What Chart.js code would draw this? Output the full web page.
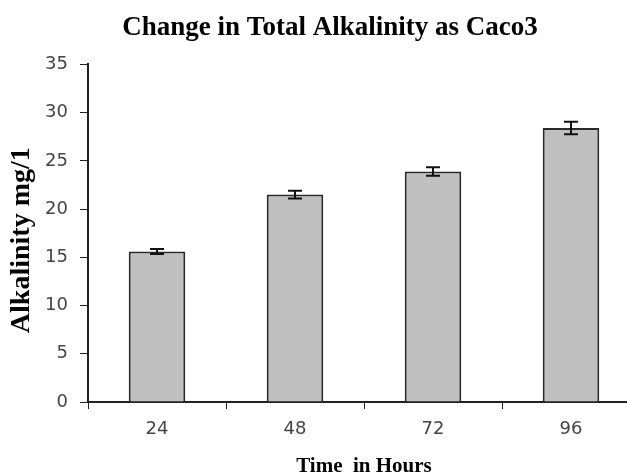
<!DOCTYPE html>
<html>
<head>
<meta charset="utf-8">
<script src="https://cdn.jsdelivr.net/npm/chart.js@4"></script>
<style>
  html, body { margin: 0; padding: 0; background: #fff; overflow: hidden; }
  #wrap { width: 640px; height: 474px; }
</style>
</head>
<body>
<div id="wrap"><canvas id="chart" width="640" height="474"></canvas></div>
<script>
// hours after start
const hours = ["24", "48", "72", "96"];
// mean alkalinity values, mg/l
const alkalinity = [15.6, 21.5, 23.9, 28.4];
// +/- error for each bar
const errors = [0.25, 0.4, 0.45, 0.65];
const yTicks = [0, 5, 10, 15, 20, 25, 30, 35];

//draws the small error whiskers on top of each bar
const errorBars = {
  id: "errorBars",
  afterDatasetsDraw(chart) {
    const ctx = chart.ctx;
    const y = chart.scales.y;
    const bars = chart.getDatasetMeta(0).data;
    ctx.save();
    ctx.strokeStyle = "#111";
    ctx.lineWidth = 2;
    bars.forEach((bar, i) => {
      const top = y.getPixelForValue(alkalinity[i] + errors[i]);
      const bot = y.getPixelForValue(alkalinity[i] - errors[i]);
      const cap = 7;
      ctx.beginPath();
      ctx.moveTo(bar.x, top);
      ctx.lineTo(bar.x, bot);
      ctx.moveTo(bar.x - cap, top);
      ctx.lineTo(bar.x + cap, top);
      ctx.moveTo(bar.x - cap, bot);
      ctx.lineTo(bar.x + cap, bot);
      ctx.stroke();
    });
    ctx.restore();
  }
};

new Chart(document.getElementById("chart"), {
  type: "bar",
  plugins: [errorBars],
  data: {
    labels: hours,
    datasets: [{
      data: alkalinity,
      backgroundColor: "#c0c0c0",
      borderColor: "#2a2a2a",
      borderWidth: 2,
      barPercentage: 0.41,
      categoryPercentage: 1.0
    }]
  },
  options: {
    responsive: false,
    animation: false,
    layout: { padding: { left: 20, right: 0, top: 0, bottom: 0 } },
    plugins: {
      legend: { display: false },
      tooltip: { enabled: false },
      title: {
        display: true,
        text: "Change in Total Alkalinity as Caco3",
        color: "#000",
        font: { family: "Liberation Serif", size: 27, weight: "bold" },
        padding: { top: 12, bottom: 20 }
      }
    },
    scales: {
      x: {
        afterFit: (axis) => { axis.height = 72; },
        grid: { drawOnChartArea: false, drawTicks: true, tickLength: 7, color: "#222", offset: true },
        border: { color: "#222", width: 2 },
        ticks: { color: "#444", font: { family: "DejaVu Sans", size: 18 }, padding: 10 },
        title: {
          display: true,
          text: "Time  in Hours",
          color: "#000",
          font: { family: "Liberation Serif", size: 21, weight: "bold", lineHeight: 0.6 },
          padding: { top: 0, bottom: 1 }
        }
      },
      y: {
        min: 0,
        max: 35,
        afterFit: (axis) => { axis.width = 68; },
        afterBuildTicks: (axis) => { axis.ticks = yTicks.map(v => ({ value: v })); },
        grid: { drawOnChartArea: false, drawTicks: true, tickLength: 8, color: "#222" },
        border: { color: "#222", width: 2 },
        ticks: { color: "#444", font: { family: "DejaVu Sans", size: 18 }, padding: 12 },
        title: {
          display: true,
          text: "Alkalinity mg/1  ",
          color: "#000",
          font: { family: "Liberation Serif", size: 28, weight: "bold", lineHeight: 0.14 },
          padding: { top: 0, bottom: 0 }
        }
      }
    }
  }
});
</script>
</body>
</html>
